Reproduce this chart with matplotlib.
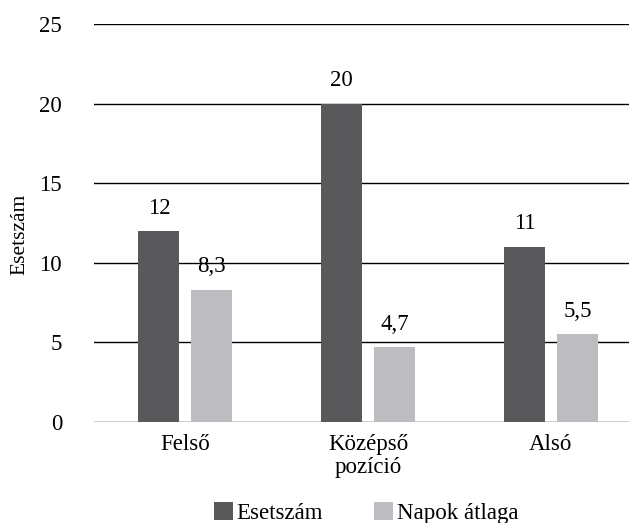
import matplotlib.pyplot as plt
import numpy as np

plt.rcParams["font.family"] = ["Liberation Serif", "DejaVu Serif"]

categories = ["Felső", "Középső\npozíció", "Alsó"]
esetszam = [12, 20, 11]
napok_atlaga = [8.3, 4.7, 5.5]
esetszam_labels = ["12", "20", "11"]
napok_labels = ["8,3", "4,7", "5,5"]
y_ticks = [0, 5, 10, 15, 20, 25]

DARK = "#59595b"
LIGHT = "#bdbdc1"
FS = 16.5

fig = plt.figure(figsize=(6.33, 5.23), dpi=100)
ax = fig.add_axes([94 / 633, 1 - 421.7 / 523, 535 / 633, (421.7 - 24.3) / 523])

x = np.arange(len(categories))
w = 0.225
off = 0.145

b1 = ax.bar(x - off, esetszam, width=w, color=DARK, label="Esetszám", zorder=3)
b2 = ax.bar(x + off, napok_atlaga, width=w, color=LIGHT, label="Napok átlaga", zorder=3)

for rect, lab in zip(b1, esetszam_labels):
    ax.annotate(lab, (rect.get_x() + rect.get_width() / 2, rect.get_height()),
                xytext=(0, 16.5), textcoords="offset points",
                ha="center", va="center", fontsize=FS)
for rect, lab in zip(b2, napok_labels):
    ax.annotate(lab, (rect.get_x() + rect.get_width() / 2, rect.get_height()),
                xytext=(0, 16.5), textcoords="offset points",
                ha="center", va="center", fontsize=FS)

ax.set_ylim(0, 25)
ax.set_xlim(-0.5, 2.427)
ax.set_yticks(y_ticks)
ax.set_yticklabels([str(t) for t in y_ticks], fontsize=FS)
ax.set_xticks(x)
ax.set_xticklabels(categories, fontsize=FS, linespacing=1.1)
ax.tick_params(axis="y", length=0, pad=23)
ax.tick_params(axis="x", length=0, pad=9)

for t in y_ticks:
    ax.axhline(t, color="black", linewidth=1.0, zorder=1)

for s in ax.spines.values():
    s.set_visible(False)

fig.text(20 / 633, 1 - 234 / 523, "Esetszám", rotation=90, ha="center", va="center", fontsize=15.5)

fig.legend(handles=[b1, b2], loc="center", bbox_to_anchor=(366 / 633, 1 - 513 / 523),
           ncol=2, frameon=False, fontsize=FS, handlelength=0.85, handleheight=0.85,
           handletextpad=0.15, columnspacing=2.2, borderpad=0)

fig.savefig("out.png", dpi=100, facecolor="white")
